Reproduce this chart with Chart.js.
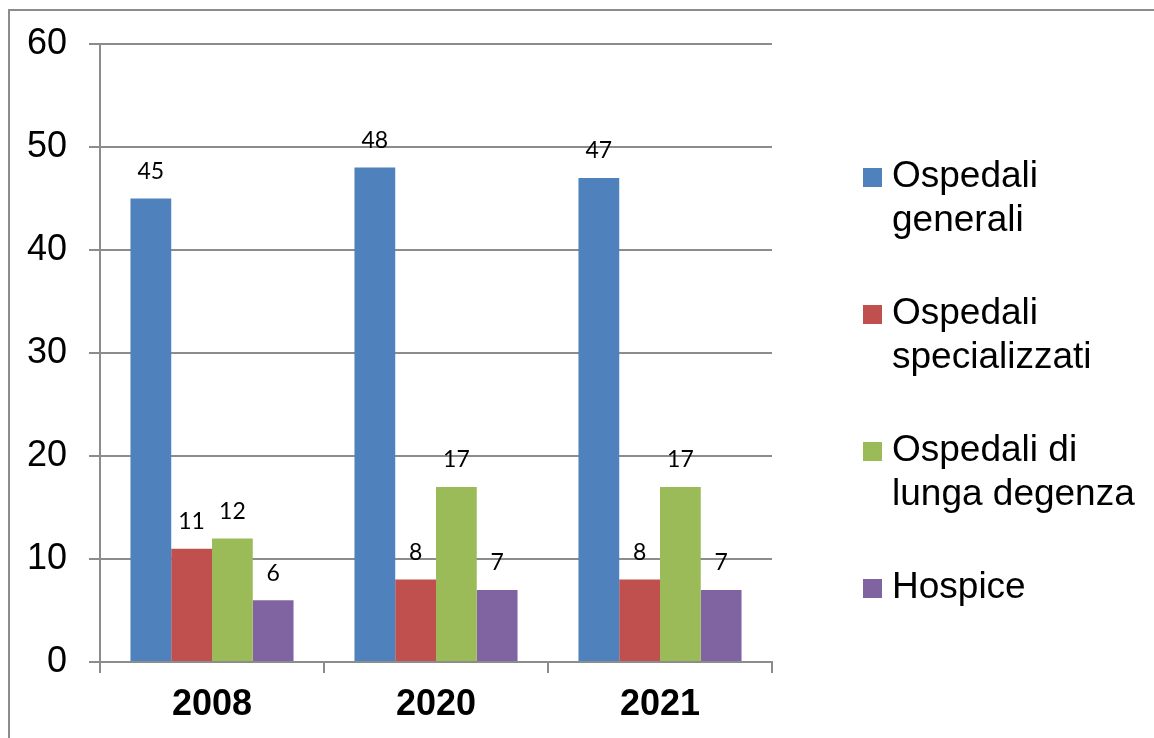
<!DOCTYPE html>
<html>
<head>
<meta charset="utf-8">
<script src="https://cdn.jsdelivr.net/npm/chart.js@4"></script>
<style>
  html, body { margin: 0; padding: 0; background: #ffffff; }
  #wrap { width: 1154px; height: 738px; position: relative; }
</style>
</head>
<body>
<div id="wrap"><canvas id="c" width="1154" height="738"></canvas></div>
<script>
// ---- data ----
const categories = ['2008', '2020', '2021'];
const seriesNames = ['Ospedali\ngenerali', 'Ospedali\nspecializzati', 'Ospedali di\nlunga degenza', 'Hospice'];
const ospedaliGenerali = [45, 48, 47];
const ospedaliSpecializzati = [11, 8, 8];
const ospedaliLungaDegenza = [12, 17, 17];
const hospice = [6, 7, 7];
const yTicks = [0, 10, 20, 30, 40, 50, 60];

const colors = ['#4F81BD', '#C0504D', '#9BBB59', '#8064A2'];
const seriesValues = [ospedaliGenerali, ospedaliSpecializzati, ospedaliLungaDegenza, hospice];

const gridColor = '#8c8c8c';

const frame = {
  id: 'frame',
  beforeDraw(chart) {
    const ctx = chart.ctx;
    ctx.save();
    ctx.fillStyle = '#ffffff';
    ctx.fillRect(0, 0, chart.width, chart.height);
    ctx.strokeStyle = gridColor;
    ctx.lineWidth = 2;
    ctx.strokeRect(9, 10, chart.width + 20, chart.height + 20);
    ctx.restore();
  }
};

const valueLabels = {
  id: 'valueLabels',
  afterDatasetsDraw(chart) {
    const ctx = chart.ctx;
    ctx.save();
    ctx.font = '23px Lato, "Open Sans", sans-serif';
    ctx.fillStyle = '#000000';
    ctx.textAlign = 'center';
    ctx.textBaseline = 'middle';
    chart.data.datasets.forEach((ds, i) => {
      const meta = chart.getDatasetMeta(i);
      meta.data.forEach((bar, j) => {
        ctx.fillText(String(ds.data[j]), bar.x, bar.y - 27);
      });
    });
    ctx.restore();
  }
};

const sideLegend = {
  id: 'sideLegend',
  afterDraw(chart) {
    const ctx = chart.ctx;
    ctx.save();
    ctx.font = '37px "Liberation Sans", Arial, sans-serif';
    ctx.textAlign = 'left';
    ctx.textBaseline = 'alphabetic';
    chart.data.datasets.forEach((ds, i) => {
      const base = 187 + i * 137;
      ctx.fillStyle = ds.backgroundColor;
      ctx.fillRect(863, base - 19, 19, 19);
      ctx.fillStyle = '#000000';
      ds.label.split('\n').forEach((line, k) => {
        ctx.fillText(line, 892, base + k * 44);
      });
    });
    ctx.restore();
  }
};

new Chart(document.getElementById('c'), {
  type: 'bar',
  data: {
    labels: categories,
    datasets: seriesNames.map((name, i) => ({
      label: name,
      data: seriesValues[i],
      backgroundColor: colors[i],
      borderWidth: 0,
      categoryPercentage: 0.728,
      barPercentage: 1.0
    }))
  },
  options: {
    responsive: false,
    animation: false,
    layout: { padding: { left: 0, top: 44, right: 382, bottom: 0 } },
    plugins: {
      legend: { display: false },
      tooltip: { enabled: false }
    },
    scales: {
      x: {
        grid: {
          display: true,
          drawOnChartArea: false,
          drawTicks: true,
          tickLength: 11,
          color: gridColor,
          lineWidth: 2,
          offset: true
        },
        border: { display: true, color: gridColor, width: 2 },
        ticks: {
          color: '#000000',
          font: { family: '"Liberation Sans", Arial, sans-serif', size: 36, weight: 'bold' },
          padding: 10
        },
        afterFit(scale) { scale.height = 76; }
      },
      y: {
        min: 0,
        max: 60,
        afterBuildTicks(scale) { scale.ticks = yTicks.map(v => ({ value: v })); },
        grid: {
          color: gridColor,
          lineWidth: 2,
          drawTicks: true,
          tickLength: 11
        },
        border: { display: true, color: gridColor, width: 2 },
        ticks: {
          color: '#000000',
          font: { family: '"Liberation Sans", Arial, sans-serif', size: 36 },
          padding: 22
        },
        afterFit(scale) { scale.width = 100; }
      }
    }
  },
  plugins: [frame, valueLabels, sideLegend]
});
</script>
</body>
</html>
